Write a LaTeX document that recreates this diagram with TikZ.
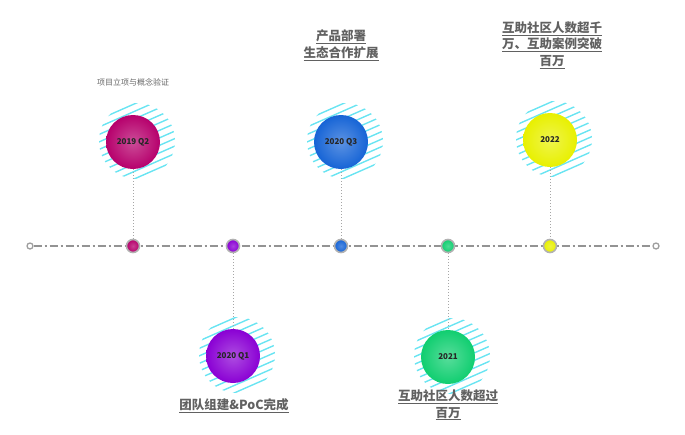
\documentclass[tikz,border=0pt]{standalone}
\usepackage{fontspec}
\setmainfont{Noto Sans CJK SC}
\definecolor{cmag}{RGB}{182,0,108}
\definecolor{cpur}{RGB}{138,0,212}
\definecolor{cblu}{RGB}{22,100,214}
\definecolor{cgrn}{RGB}{16,206,112}
\definecolor{cyel}{RGB}{232,240,0}
\definecolor{caqua}{RGB}{105,228,242}
\begin{document}
\begin{tikzpicture}[x=1pt, y=-1pt,
  bigdot/.style={circle, minimum size=54pt, inner sep=0pt,
                 font=\bfseries\fontsize{8}{9}\selectfont, text=black!85},
  marker/.style={circle, minimum size=13pt, inner sep=0pt,
                 draw=gray!60, line width=1.6pt},
  tip/.style={circle, minimum size=6pt, inner sep=0pt,
              draw=gray!75, line width=1.3pt, fill=white},
  hatch/.style={caqua, line width=1.4pt},
  axis/.style={gray!85, line width=1.7pt,
               dash pattern=on 8pt off 3pt on 2pt off 3pt},
  link/.style={gray!70, dotted, line width=1pt},
  note/.style={font=\bfseries\fontsize{12.5}{16.5}\selectfont, text=black!62, align=center}
]
  \useasboundingbox (0,0) rectangle (685,434);

  % timeline
  \node[tip] (start) at (30,246) {};
  \node[tip] (stop)  at (656,246) {};
  \draw[axis] (start) -- (stop);

  % events
  \foreach \n/\x/\y/\c/\t in {m1/133/142/cmag/2019 Q2, m2/233/356/cpur/2020 Q1,
                              m3/341/142/cblu/2020 Q3, m4/448/357/cgrn/2021,
                              m5/550/140/cyel/2022}{
    \begin{scope}
      \clip (\x+4,\y-1) circle (38);
      \foreach \k in {-8,...,8}
        \draw[hatch] (\x-50,\y+\k*7.5+22) -- (\x+50,\y+\k*7.5-22);
    \end{scope}
    \node[bigdot, inner color=\c!70!white, outer color=\c] (\n) at (\x,\y) {\t};
    \node[marker, inner color=\c!75!white, outer color=\c] (\n p) at (\x,246) {};
  }

  \draw[link] (m1) -- (m1p);
  \draw[link] (m3) -- (m3p);
  \draw[link] (m5) -- (m5p);
  \draw[link] (m2p) -- (m2);
  \draw[link] (m4p) -- (m4);

  % labels
  \node[font=\fontsize{8}{9}\selectfont, text=black!60] (l1) at (133,82) {项目立项与概念验证};
  \node[note] (l3) at (341,45) {\underline{产品部署}\\\underline{生态合作扩展}};
  \node[note] (l5) at (552,45) {\underline{互助社区人数超千}\\\underline{万、互助案例突破}\\\underline{百万}};
  \node[note] (l2) at (234,406) {\underline{团队组建\&PoC完成}};
  \node[note] (l4) at (448,405) {\underline{互助社区人数超过}\\\underline{百万}};

\end{tikzpicture}
\end{document}
